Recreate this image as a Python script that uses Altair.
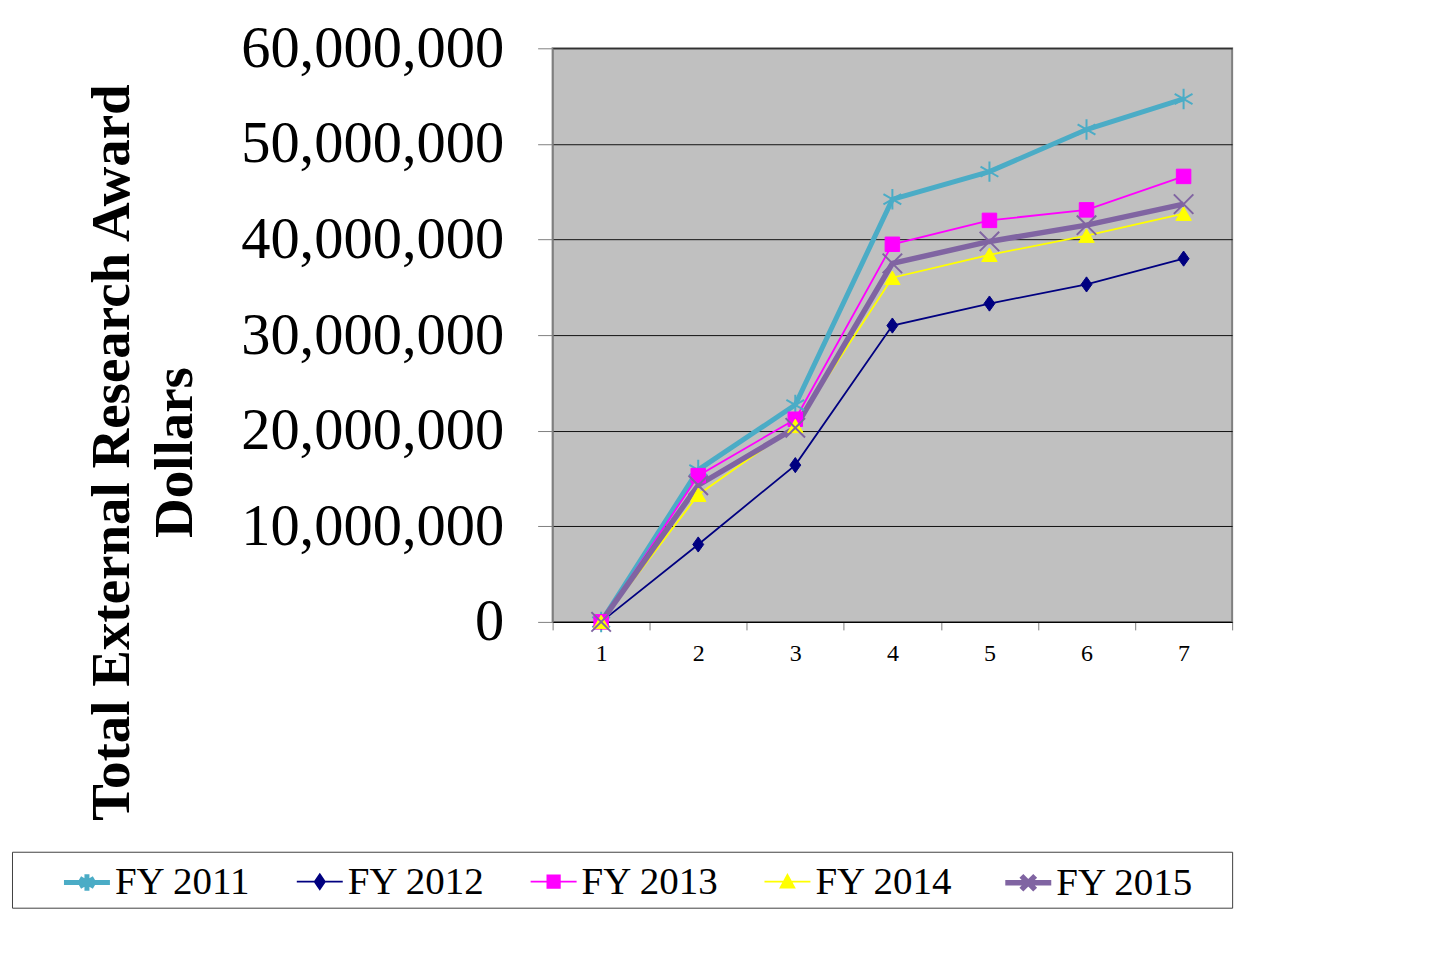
import altair as alt
import pandas as pd

# ---------------- data ----------------
periods = [1, 2, 3, 4, 5, 6, 7]
series_names = ["FY 2011", "FY 2012", "FY 2013", "FY 2014", "FY 2015"]
fy2011 = [0, 15.9e6, 22.7e6, 44.2e6, 47.1e6, 51.5e6, 54.7e6]
fy2012 = [0, 8.1e6, 16.4e6, 31.0e6, 33.3e6, 35.3e6, 38.0e6]
fy2013 = [0, 15.3e6, 21.2e6, 39.5e6, 42.0e6, 43.1e6, 46.6e6]
fy2014 = [0, 13.3e6, 20.5e6, 36.0e6, 38.4e6, 40.4e6, 42.7e6]
fy2015 = [0, 14.3e6, 20.3e6, 37.5e6, 39.8e6, 41.5e6, 43.7e6]
y_ticks = [0, 10e6, 20e6, 30e6, 40e6, 50e6, 60e6]
y_title = ["Total External Research Award", "Dollars"]

# ---------------- styles ----------------
colors = ["#4BACC6", "#000080", "#FF00FF", "#FFFF00", "#8064A2"]
line_widths = [5, 1.8, 1.8, 1.8, 5.5]
marker_shapes = [
    "M0,-1V1M-0.87,-0.5L0.87,0.5M-0.87,0.5L0.87,-0.5",
    "M0,-1L0.72,0L0,1L-0.72,0Z",
    "square",
    "triangle-up",
    "M-1,-1L1,1M-1,1L1,-1",
]
marker_sizes = [420, 230, 210, 240, 380]
marker_strokes = [2, 1, 1, 1, 2]
legend_markers = [
    "M0,-0.36V0.36M-0.31,-0.18L0.31,0.18M-0.31,0.18L0.31,-0.18",
    "M0,-0.32L0.22,0L0,0.32L-0.22,0Z",
    "M-0.27,-0.27H0.27V0.27H-0.27Z",
    "M0,-0.3L0.3,0.26H-0.3Z",
    "M-0.3,-0.3L0.3,0.3M-0.3,0.3L0.3,-0.3",
]
legend_paths = ["M-1,0H1" + m for m in legend_markers]

rows = []
for name, vals in zip(series_names, [fy2011, fy2012, fy2013, fy2014, fy2015]):
    for p, v in zip(periods, vals):
        rows.append({"period": p, "series": name, "value": v})
df = pd.DataFrame(rows)

serif = "Liberation Serif"

x_enc = alt.X(
    "period:O",
    bandPosition=0.5,
    scale=alt.Scale(type="band", paddingInner=0, paddingOuter=0),
    axis=alt.Axis(
        title=None, labelAngle=0, tickBand="extent", tickSize=8,
        labelFont=serif, labelFontSize=24, labelColor="black",
        labelPadding=12, tickColor="#808080", domainColor="#000000",
        grid=False,
    ),
)
y_enc = alt.Y(
    "value:Q",
    scale=alt.Scale(domain=[0, 60e6], nice=False),
    axis=alt.Axis(
        values=y_ticks, format=",d", title=y_title,
        labelFont=serif, labelFontSize=58.5, labelColor="black",
        labelPadding=34, labelLimit=500, tickSize=15, tickColor="#808080",
        domainColor="#808080", labelFlush=False, labelOverlap=False,
        grid=True, gridColor="#111111", gridWidth=1,
        titleFont=serif, titleFontSize=55, titleFontWeight="bold",
        titleColor="black", titleAngle=270, titleAlign="center",
        titleBaseline="alphabetic", titleLineHeight=63,
        titleX=-424, titleY=404, titleLimit=1000,
    ),
)

color_scale = alt.Scale(domain=series_names, range=colors)
width_scale = alt.Scale(type="ordinal", domain=series_names, range=line_widths)

lines = alt.Chart(df).mark_line().encode(
    x=x_enc,
    y=y_enc,
    color=alt.Color("series:N", scale=color_scale, legend=None),
    strokeWidth=alt.StrokeWidth("series:N", scale=width_scale, legend=None),
)

points = alt.Chart(df).mark_point(filled=True, opacity=1).encode(
    x=x_enc,
    y=y_enc,
    fill=alt.Fill("series:N", scale=color_scale, legend=None),
    stroke=alt.Stroke("series:N", scale=color_scale, legend=None),
    shape=alt.Shape("series:N", scale=alt.Scale(domain=series_names, range=marker_shapes), legend=None),
    size=alt.Size("series:N", scale=alt.Scale(type="ordinal", domain=series_names, range=marker_sizes), legend=None),
    strokeWidth=alt.StrokeWidth("series:N", scale=alt.Scale(type="ordinal", domain=series_names, range=marker_strokes), legend=None),
)

leg = alt.Legend(
    orient="none", legendX=-541, legendY=804,
    direction="horizontal", columns=5,
    title=" ", titleOrient="left", titleFontSize=10, titlePadding=44,
    symbolSize=2116, labelFont=serif, labelFontSize=39,
    labelColor="black", labelOffset=2, columnPadding=41, labelLimit=500,
    padding=5, strokeColor="#404040", fillColor="white",
    labelExpr="datum.value === 'FY 2015' ? datum.label + '\u2002\u2004\u200b' : datum.label",
)

# legend-only layer: no rows pass the filter, entries come from the explicit scale domains
legend_layer = alt.Chart(df).transform_filter("datum.value < 0").mark_point(
    filled=True, opacity=1
).encode(
    x=x_enc,
    y=y_enc,
    fill=alt.Fill("series:N", scale=color_scale, legend=leg),
    stroke=alt.Stroke("series:N", scale=color_scale, legend=leg),
    shape=alt.Shape("series:N", scale=alt.Scale(domain=series_names, range=legend_paths), legend=leg),
    strokeWidth=alt.StrokeWidth("series:N", scale=width_scale, legend=leg),
)

chart = alt.layer(lines, points, legend_layer).resolve_scale(
    color="independent", fill="independent", stroke="independent",
    shape="independent", size="independent", strokeWidth="independent",
).properties(
    width=680, height=574,
    padding={"left": 545, "top": 40, "right": 190, "bottom": 345},
    autosize=alt.AutoSizeParams(type="none"),
    background="white",
).configure_view(fill="#C0C0C0", stroke="#808080", strokeWidth=2)

chart.save("out.html", embed_options={"renderer": "svg", "actions": False})
